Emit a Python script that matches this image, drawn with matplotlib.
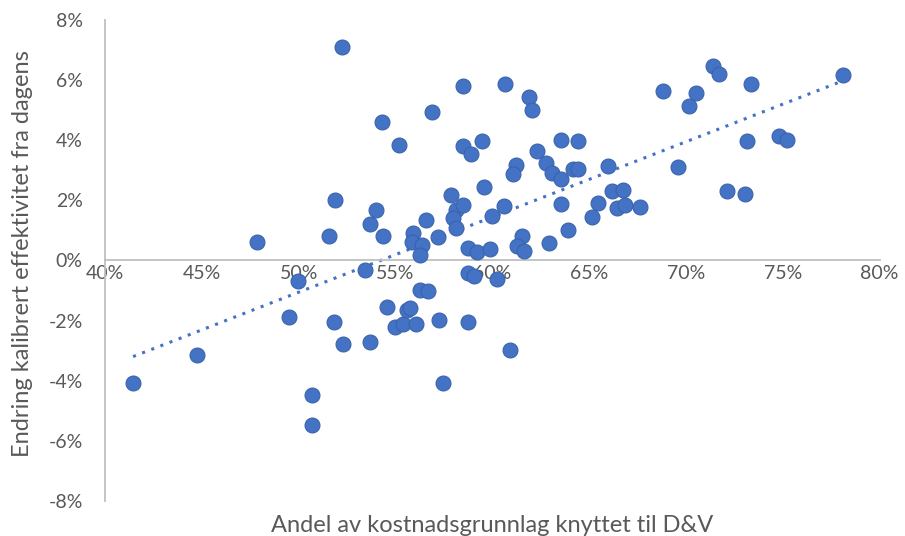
import matplotlib.pyplot as plt
from matplotlib.ticker import FuncFormatter, MultipleLocator
import numpy as np

plt.rcParams['font.family'] = ['Lato', 'DejaVu Sans']
plt.rcParams['axes.unicode_minus'] = False

# Andel av kostnadsgrunnlag knyttet til D&V (%)
andel = [41.45, 44.75, 47.85, 49.96, 49.5, 50.7, 50.7, 51.8, 52.3, 51.56,
         51.9, 52.23, 53.7, 53.45, 53.7, 54.0, 54.35, 54.3, 55.17, 54.55,
         55.0, 55.4, 56.07, 55.6, 55.75, 56.26, 56.67, 57.24, 57.45, 55.9,
         55.85, 56.36, 56.26, 56.6, 56.9, 57.2, 57.86, 58.1, 58.48, 57.96,
         58.1, 58.48, 58.5, 58.9, 59.46, 59.56, 58.74, 59.2, 59.87, 58.74,
         59.05, 58.74, 60.23, 60.9, 60.0, 60.6, 60.65, 61.9, 62.04, 61.21,
         61.06, 62.3, 62.76, 63.07, 63.56, 63.53, 64.41, 64.15, 63.53, 63.9,
         62.92, 61.52, 61.26, 61.63, 65.96, 65.13, 65.44, 66.16, 66.73, 66.42,
         66.84, 67.6, 68.8, 70.5, 70.14, 71.38, 71.7, 73.35, 78.1, 69.6,
         73.14, 74.8, 75.2, 72.1, 73.03, 64.4]

# Endring kalibrert effektivitet fra dagens (%)
endring = [-4.07, -3.13, 0.63, -0.67, -1.87, -4.47, -5.47, -2.03, -2.77, 0.8,
           2.0, 7.1, -2.7, -0.33, 1.2, 1.67, 0.8, 4.6, 3.83, -1.53,
           -2.2, -2.1, -2.1, -1.63, -1.57, -0.97, -1.0, -1.97, -4.07, 0.9,
           0.63, 0.5, 0.17, 1.33, 4.93, 0.77, 2.17, 1.67, 1.83, 1.4,
           1.07, 5.8, 3.8, 3.53, 3.97, 2.43, 0.43, 0.27, 0.37, -0.4,
           -0.5, -2.03, -0.6, -2.97, 1.47, 1.8, 5.87, 5.43, 5.0, 3.17,
           2.87, 3.63, 3.23, 2.9, 2.7, 4.0, 3.97, 3.03, 1.87, 1.0,
           0.57, 0.8, 0.47, 0.33, 3.13, 1.43, 1.9, 2.3, 2.33, 1.73,
           1.83, 1.77, 5.63, 5.57, 5.13, 6.47, 6.2, 5.87, 6.17, 3.1,
           3.97, 4.13, 4.0, 2.3, 2.2, 3.03]

x = np.array(andel)
y = np.array(endring)

fig = plt.figure(figsize=(9.05, 5.36), dpi=100)
ax = fig.add_axes([0.116, 0.065, 0.856, 0.898])

ax.scatter(x, y, s=115, color='#4472C4', edgecolors='#3A63AC', linewidths=0.8, zorder=3)

# lineær trendlinje
k, m = np.polyfit(x, y, 1)
xt = np.array([x.min(), x.max()])
ax.plot(xt, k * xt + m, linestyle=(0, (1, 2.2)), color='#4472C4', linewidth=2.2, zorder=2)

ax.set_xlim(40, 80)
ax.set_ylim(-8, 8)
ax.xaxis.set_major_locator(MultipleLocator(5))
ax.yaxis.set_major_locator(MultipleLocator(2))
pct = FuncFormatter(lambda v, p: f"{v:.0f}%")
ax.xaxis.set_major_formatter(pct)
ax.yaxis.set_major_formatter(pct)

for s in ['top', 'right']:
    ax.spines[s].set_visible(False)
ax.spines['bottom'].set_position(('data', 0))
ax.spines['bottom'].set_color('#BFBFBF')
ax.spines['left'].set_color('#BFBFBF')
ax.spines['bottom'].set_linewidth(1.3)
ax.spines['left'].set_linewidth(1.3)

ax.tick_params(axis='x', length=0, pad=3, labelsize=14, colors='#595959')
ax.tick_params(axis='y', length=0, pad=16, labelsize=14, colors='#595959')

ax.set_xlabel('Andel av kostnadsgrunnlag knyttet til D&V', fontsize=17, color='#595959')
ax.xaxis.set_label_coords(0.5, -0.028)
ax.set_ylabel('Endring kalibrert effektivitet fra dagens', fontsize=17, color='#595959')
ax.yaxis.set_label_coords(-0.093, 0.515)

fig.savefig('out.png', dpi=100)
